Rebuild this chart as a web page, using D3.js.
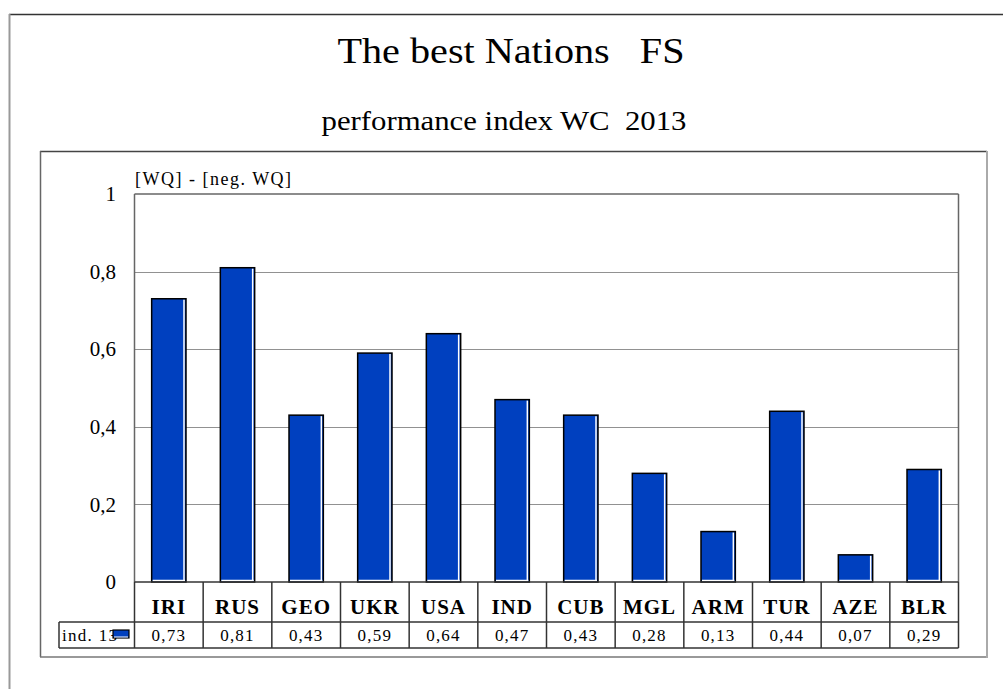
<!DOCTYPE html>
<html><head><meta charset="utf-8">
<script src="https://cdn.jsdelivr.net/npm/d3@7"></script>
<style>html,body{margin:0;padding:0;background:#fff;}svg{display:block;}</style>
</head><body>
<script>
const categories = ["IRI","RUS","GEO","UKR","USA","IND","CUB","MGL","ARM","TUR","AZE","BLR"];
const values = [0.73,0.81,0.43,0.59,0.64,0.47,0.43,0.28,0.13,0.44,0.07,0.29];
const valueLabels = ["0,73","0,81","0,43","0,59","0,64","0,47","0,43","0,28","0,13","0,44","0,07","0,29"];
const yTicks = [0,0.2,0.4,0.6,0.8,1];
const seriesName = "ind. 13";
const title = "The best Nations\u00a0\u00a0\u00a0FS";
const subtitle = "performance index WC\u00a0\u00a02013";
const yTitle = "[WQ] - [neg. WQ]";

const W = 1003, H = 689;
const svg = d3.select("body").append("svg").attr("width", W).attr("height", H)
  .style("font-family", "'Liberation Serif','Times New Roman',serif");

// outer frame
svg.append("line").attr("x1",9).attr("x2",W).attr("y1",14.5).attr("y2",14.5).attr("stroke","#333").attr("stroke-width",1.5);
svg.append("line").attr("x1",9.5).attr("x2",9.5).attr("y1",14).attr("y2",H).attr("stroke","#999").attr("stroke-width",2);

// titles
svg.append("text").attr("x",511).attr("y",63).attr("text-anchor","middle")
  .attr("font-size",36).attr("textLength",347).attr("lengthAdjust","spacingAndGlyphs").text(title);
svg.append("text").attr("x",504).attr("y",130).attr("text-anchor","middle")
  .attr("font-size",27).attr("textLength",365).attr("lengthAdjust","spacingAndGlyphs").text(subtitle);

// inner frame
svg.append("line").attr("x1",40).attr("x2",987).attr("y1",151.5).attr("y2",151.5).attr("stroke","#444").attr("stroke-width",1.5);
svg.append("line").attr("x1",40.5).attr("x2",40.5).attr("y1",151).attr("y2",657).attr("stroke","#666").attr("stroke-width",1.5);
svg.append("line").attr("x1",40).attr("x2",987).attr("y1",657).attr("y2",657).attr("stroke","#777").attr("stroke-width",1.5);
svg.append("line").attr("x1",987).attr("x2",987).attr("y1",151).attr("y2",658).attr("stroke","#aaa").attr("stroke-width",2);

// scales
const plotL = 134.5, plotR = 958.5, plotT = 194, plotB = 582;
const x = d3.scaleBand().domain(categories).range([plotL, plotR]).paddingInner(0.5).paddingOuter(0.25);
const xCol = d3.scaleBand().domain(categories).range([plotL, plotR]).padding(0);
const y = d3.scaleLinear().domain([0,1]).range([plotB, plotT]);

// gridlines
const g = svg.append("g");
g.selectAll("line.grid").data(yTicks.filter(t => t > 0 && t < 1)).enter().append("line")
  .attr("x1", plotL).attr("x2", plotR)
  .attr("y1", d => Math.round(y(d)) + 0.5).attr("y2", d => Math.round(y(d)) + 0.5)
  .attr("stroke","#222").attr("stroke-width",1).attr("stroke-dasharray","1,1");

// plot frame
svg.append("line").attr("x1",plotL).attr("x2",plotR).attr("y1",y(1)).attr("y2",y(1)).attr("stroke","#666").attr("stroke-width",1.5);
svg.append("line").attr("x1",plotL).attr("x2",plotL).attr("y1",y(1)).attr("y2",plotB).attr("stroke","#666").attr("stroke-width",1.5);
svg.append("line").attr("x1",plotR).attr("x2",plotR).attr("y1",y(1)).attr("y2",plotB).attr("stroke","#666").attr("stroke-width",1.5);

// y axis labels
const yAxis = d3.axisLeft(y).tickValues(yTicks).tickSize(0).tickPadding(0)
  .tickFormat(d => d3.format(".1~f")(d).replace(".", ","));
const ya = svg.append("g").attr("transform", `translate(116,0)`).call(yAxis);
ya.select(".domain").remove();
ya.selectAll("text").attr("font-size",21).attr("font-family","'Liberation Serif',serif").attr("fill","#000");

// y title
svg.append("text").attr("x",135).attr("y",185).attr("font-size",18).attr("letter-spacing",1.5).text(yTitle);

// bars
const bars = svg.append("g");
categories.forEach((c, i) => {
  const bx = x(c), bw = x.bandwidth(), by = y(values[i]), bh = y(0) - y(values[i]);
  bars.append("rect").attr("x", bx).attr("y", by).attr("width", bw).attr("height", bh)
    .attr("fill","#0040BF").attr("stroke","#000").attr("stroke-width",1.5);
  bars.append("line").attr("x1", bx + bw - 2).attr("x2", bx + bw - 2).attr("y1", by + 1).attr("y2", y(0) - 1)
    .attr("stroke","#fff").attr("stroke-width",1.5);
  bars.append("line").attr("x1", bx + 1).attr("x2", bx + bw - 1).attr("y1", y(0) - 1.5).attr("y2", y(0) - 1.5)
    .attr("stroke","#fff").attr("stroke-width",1.5);
});

// data table
const rowCatT = 582, rowValT = 622, rowValB = 648, tblL = 59;
const t = svg.append("g").attr("stroke","#333").attr("stroke-width",1.5);
t.append("line").attr("x1",plotL).attr("x2",plotR).attr("y1",rowCatT).attr("y2",rowCatT);
t.append("line").attr("x1",tblL).attr("x2",plotR).attr("y1",rowValT).attr("y2",rowValT);
t.append("line").attr("x1",tblL).attr("x2",plotR).attr("y1",rowValB).attr("y2",rowValB);
t.append("line").attr("x1",tblL).attr("x2",tblL).attr("y1",rowValT).attr("y2",rowValB);
t.selectAll("line.col").data(categories).enter().append("line")
  .attr("x1", d => xCol(d)).attr("x2", d => xCol(d)).attr("y1", rowCatT).attr("y2", rowValB);
t.append("line").attr("x1",plotR).attr("x2",plotR).attr("y1",rowCatT).attr("y2",rowValB);

svg.append("g").selectAll("text").data(categories).enter().append("text")
  .attr("x", d => xCol(d) + xCol.bandwidth()/2).attr("y", 614).attr("text-anchor","middle")
  .attr("font-size",21).attr("font-weight","bold").attr("letter-spacing",1).text(d => d);
svg.append("g").selectAll("text").data(valueLabels).enter().append("text")
  .attr("x", (d,i) => xCol(categories[i]) + xCol.bandwidth()/2).attr("y", 641).attr("text-anchor","middle")
  .attr("font-size",17).attr("letter-spacing",1.2).text(d => d);

// legend cell
svg.append("text").attr("x",62).attr("y",641).attr("font-size",17).attr("letter-spacing",1.3).text(seriesName);
svg.append("rect").attr("x",113).attr("y",630).attr("width",16).attr("height",8)
  .attr("fill","#0040BF").attr("stroke","#000").attr("stroke-width",1.2);
svg.append("line").attr("x1",114).attr("x2",128).attr("y1",637).attr("y2",637).attr("stroke","#fff");
</script>
</body></html>
